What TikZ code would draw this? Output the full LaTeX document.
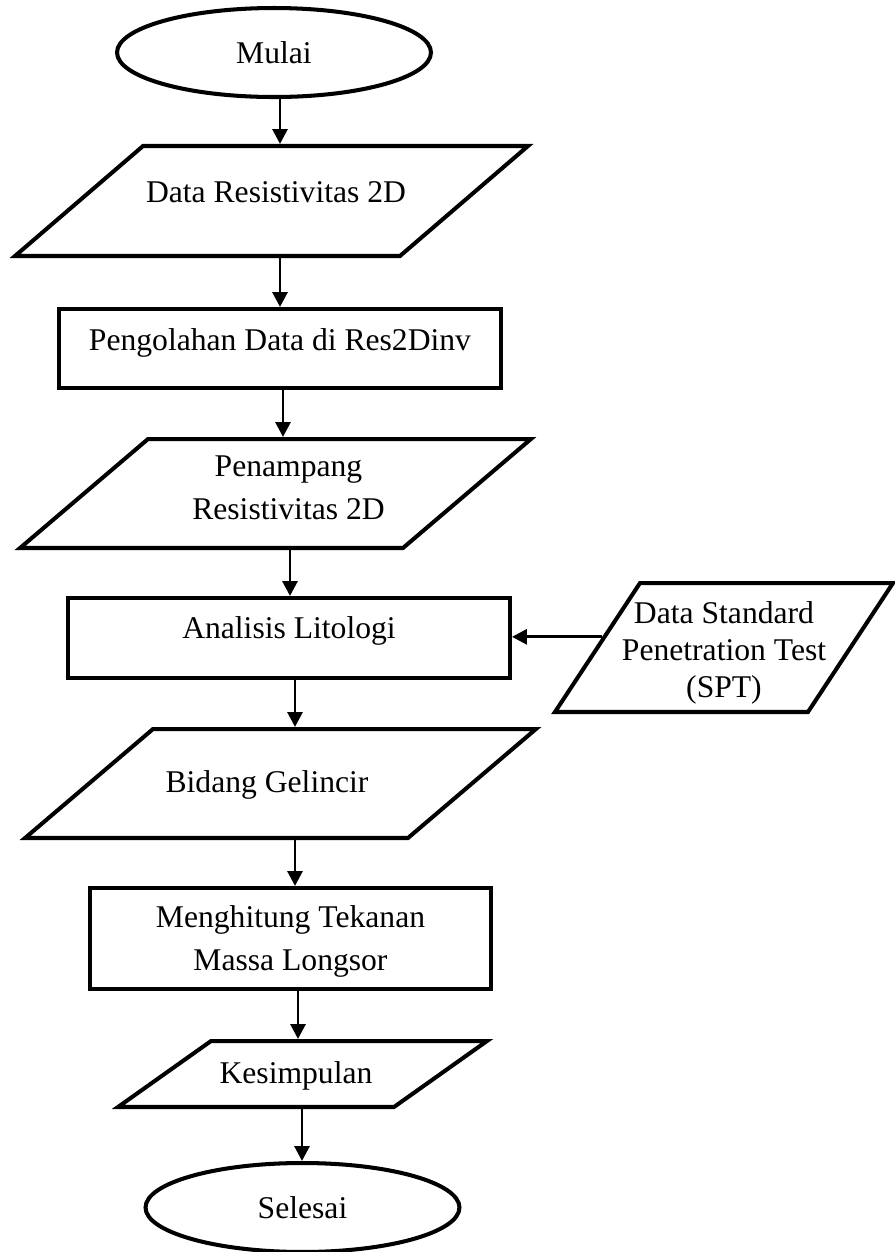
\documentclass[tikz,border=0pt]{standalone}
\usepackage{fontspec}
\setmainfont{Liberation Serif}
\usetikzlibrary{shapes.geometric, arrows.meta}

\begin{document}
\begin{tikzpicture}[x=0.02cm, y=-0.02cm,
	font=\fontsize{18pt}{24.2pt}\selectfont,
	terminal/.style = {shape=ellipse, draw, line width=2.3pt, minimum width=6.28cm, minimum height=1.78cm},
	process/.style = {shape=rectangle, draw, line width=2.3pt, align=center, inner ysep=0pt},
	io/.style = {shape=trapezium, draw, line width=2.3pt, align=center, inner sep=0pt},
	flow/.style = {-{Triangle[width=8.5pt, length=8.5pt]}, line width=1.7pt}]
	\useasboundingbox (0,0) rectangle (895,1252);
	\node[terminal] (mulai) at (274,52.5) {Mulai};
	\node[io, trapezium left angle=40.67, trapezium right angle=139.33,
		text height=1.134cm, text depth=1.066cm] (data) at (271.5,201)
		{\makebox[5.14cm]{\hspace*{0.18cm}Data Resistivitas 2D}};
	\node[process, minimum width=8.84cm, text height=0.82cm, text depth=0.76cm] (olah) at (280,348.5) {Pengolahan Data di Res2Dinv};
	\node[io, trapezium left angle=40.42, trapezium right angle=139.58,
		text height=1.606cm, text depth=0.574cm] (penampang) at (275.5,493.5)
		{\makebox[5.1cm]{\hspace*{0.52cm}Penampang}\\\makebox[5.1cm]{\hspace*{0.52cm}Resistivitas 2D}};
	\node[process, minimum width=8.84cm, text height=0.8cm, text depth=0.8cm] (analisis) at (289,638) {Analisis Litologi};
	\node[io, trapezium left angle=56.6, trapezium right angle=123.4,
		text height=2.28cm, text depth=0.3cm, font=\fontsize{18pt}{21pt}\selectfont] (spt) at (724,647.5)
		{\makebox[3.36cm]{Data Standard}\\\makebox[3.36cm]{Penetration Test}\\\makebox[3.36cm]{(SPT)}};
	\node[io, trapezium left angle=40.42, trapezium right angle=139.58,
		text height=1.26cm, text depth=0.92cm] (bidang) at (280.5,783.5)
		{\makebox[5.1cm]{Bidang Gelincir\hspace*{0.54cm}}};
	\node[process, minimum width=8.02cm, text height=1.64cm, text depth=0.38cm] (hitung) at (290.5,938.5) {Menghitung Tekanan\\Massa Longsor};
	\node[io, trapezium left angle=35.36, trapezium right angle=144.64,
		text height=0.84cm, text depth=0.48cm] (simpul) at (302.5,1074)
		{\makebox[3.66cm]{Kesimpulan\hspace*{0.26cm}}};
	\node[terminal] (selesai) at (302.5,1207.5) {Selesai};

	\draw[flow] (mulai.south -| 280,0) -- (data.north -| 280,0);
	\draw[flow] (data.south -| 280,0) -- (olah.north -| 280,0);
	\draw[flow] (olah.south -| 283,0) -- (penampang.north -| 283,0);
	\draw[flow] (penampang.south -| 290,0) -- (analisis.north -| 290,0);
	\draw[flow] (analisis.south -| 295,0) -- (bidang.north -| 295,0);
	\draw[flow] (bidang.south -| 295,0) -- (hitung.north -| 295,0);
	\draw[flow] (hitung.south -| 298,0) -- (simpul.north -| 298,0);
	\draw[flow] (simpul.south -| 302,0) -- (selesai.north -| 302,0);
	\draw[flow] (spt.175.5) -- (spt.175.5 -| analisis.east);
\end{tikzpicture}
\end{document}
